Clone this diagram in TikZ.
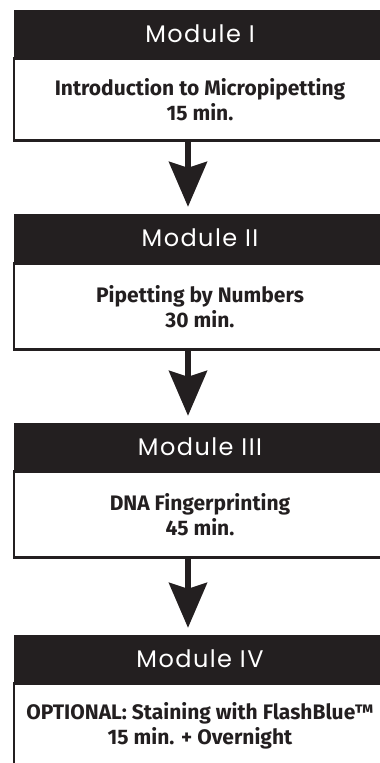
\documentclass[tikz,border=0pt]{standalone}
\usepackage{fontspec}
\setmainfont{Fira Sans}
\newfontfamily\modfont[LetterSpace=6]{Poppins}
\usetikzlibrary{positioning,arrows.meta}
\definecolor{ink}{HTML}{231F20}

\begin{document}
\begin{tikzpicture}[x=1pt,y=1pt,
	headbox/.style={rectangle, fill=ink, text=white, minimum width=372pt, minimum height=47pt, inner sep=0pt, font=\modfont\fontsize{24}{24}\selectfont},
	bodybox/.style={rectangle, draw=ink, line width=2.5pt, minimum width=372pt, minimum height=82pt, inner sep=0pt, align=center, text=ink, font=\bfseries\fontsize{21}{25}\selectfont},
	flow/.style={draw=ink, line width=5.5pt, -{Stealth[length=45pt,width=38pt,inset=6pt]}, shorten >=7pt}]
	\useasboundingbox (0,0) rectangle (380,-763);

	\node[headbox] (h1) at (200,-33.5) {Module I};
	\node[bodybox, below=0pt of h1] (b1) {Introduction to Micropipetting\\15 min.};

	\node[headbox, minimum height=48pt] (h2) at (200,-238) {Module II};
	\node[bodybox, below=0pt of h2, minimum height=86pt] (b2) {Pipetting by Numbers\\30 min.};

	\node[headbox] (h3) at (200,-446.5) {Module III};
	\node[bodybox, below=0pt of h3, minimum height=86pt] (b3) {DNA Fingerprinting\\45 min.};

	\node[headbox] (h4) at (200,-658.5) {Module IV};
	\node[bodybox, below=0pt of h4, minimum height=84pt] (b4) {OPTIONAL: Staining with FlashBlue™\\15 min. + Overnight};

	\draw[flow] ([xshift=-12pt]b1.south) -- ([xshift=-12pt]h2.north);
	\draw[flow] ([xshift=-12pt]b2.south) -- ([xshift=-12pt]h3.north);
	\draw[flow] ([xshift=-12pt]b3.south) -- ([xshift=-12pt]h4.north);
\end{tikzpicture}
\end{document}
